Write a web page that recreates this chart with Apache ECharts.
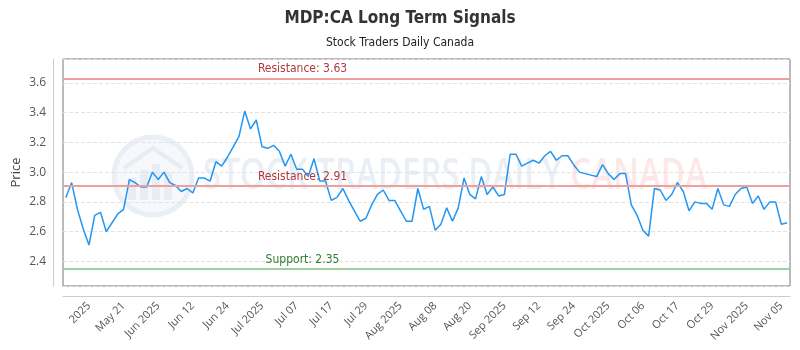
<!DOCTYPE html>
<html>
<head>
<meta charset="utf-8">
<title>MDP:CA Long Term Signals</title>
<script src="https://cdn.jsdelivr.net/npm/echarts@6.0.0/dist/echarts.min.js"></script>
<style>
    html, body { margin: 0; padding: 0; background: #fff; }
    #chart { width: 800px; height: 350px; }
</style>
</head>
<body>
<div id="chart"></div>
<script>
// closing prices, one per trading day
var prices = [
    2.83, 2.93, 2.75, 2.62, 2.51, 2.71, 2.73, 2.60, 2.66, 2.72,
    2.75, 2.95, 2.93, 2.90, 2.90, 3.00, 2.95, 3.00, 2.93, 2.91,
    2.87, 2.89, 2.86, 2.96, 2.96, 2.94, 3.07, 3.04, 3.10, 3.17,
    3.24, 3.41, 3.29, 3.35, 3.17, 3.16, 3.18, 3.14, 3.04, 3.12,
    3.02, 3.02, 2.97, 3.09, 2.94, 2.94, 2.81, 2.83, 2.89, 2.81,
    2.74, 2.67, 2.69, 2.78, 2.85, 2.88, 2.81, 2.81, 2.74, 2.67,
    2.67, 2.89, 2.75, 2.77, 2.61, 2.65, 2.76, 2.67, 2.76, 2.96,
    2.85, 2.82, 2.97, 2.85, 2.90, 2.84, 2.85, 3.12, 3.12, 3.04,
    3.06, 3.08, 3.06, 3.11, 3.14, 3.08, 3.11, 3.11, 3.05, 3.00,
    2.99, 2.98, 2.97, 3.05, 2.99, 2.95, 2.99, 2.99, 2.78, 2.71,
    2.61, 2.57, 2.89, 2.88, 2.81, 2.85, 2.93, 2.87, 2.74, 2.80,
    2.79, 2.79, 2.75, 2.89, 2.78, 2.77, 2.85, 2.89, 2.90, 2.79,
    2.84, 2.75, 2.80, 2.80, 2.65, 2.66
];

// labels shown on the x axis, first one on day 4 then every 6th day
var tickLabels = ['2025', 'May 21', 'Jun 2025', 'Jun 12', 'Jun 24', 'Jul 2025', 'Jul 07',
    'Jul 17', 'Jul 29', 'Aug 2025', 'Aug 08', 'Aug 20', 'Sep 2025', 'Sep 12', 'Sep 24',
    'Oct 2025', 'Oct 06', 'Oct 17', 'Oct 29', 'Nov 2025', 'Nov 05'];
var firstTick = 4;
var tickStep = 6;

var resistanceHigh = 3.63;
var resistanceLow = 2.91;
var support = 2.35;

var yMin = 2.235;
var yMax = 3.76;

var narrowFont = "'Liberation Sans Narrow', 'DejaVu Sans Condensed', sans-serif";
var mainFont = "'Open Sans', sans-serif";

function isTick(i) {
    return i >= firstTick && (i - firstTick) % tickStep === 0;
}

var categories = [];
for (var i = 0; i < prices.length; i++) {
    categories.push(isTick(i) ? tickLabels[(i - firstTick) / tickStep] : 'd' + i);
}

function levelLine(value, name, lineColor, textColor) {
    return {
        yAxis: value,
        lineStyle: { color: lineColor, width: 2, type: 'solid' },
        label: {
            show: true,
            position: 'insideMiddleTop',
            distance: 3,
            offset: [-124, 0],
            formatter: name + ': ' + value.toFixed(2),
            color: textColor,
            fontFamily: narrowFont,
            fontSize: 12
        }
    };
}

// faint logo + brand text behind the plot
function watermark() {
    var blue = '#e8ecf3';
    return [
        {
            type: 'circle', z: -10, silent: true,
            shape: { cx: 153, cy: 176, r: 39 },
            style: { fill: '#f6f8fb', stroke: '#eaeef5', lineWidth: 5 }
        },
        { type: 'rect', z: -10, silent: true, shape: { x: 128, y: 178, width: 8, height: 22 }, style: { fill: blue } },
        { type: 'rect', z: -10, silent: true, shape: { x: 140, y: 170, width: 8, height: 30 }, style: { fill: blue } },
        { type: 'rect', z: -10, silent: true, shape: { x: 152, y: 164, width: 8, height: 36 }, style: { fill: blue } },
        { type: 'rect', z: -10, silent: true, shape: { x: 164, y: 172, width: 8, height: 28 }, style: { fill: blue } },
        {
            type: 'polyline', z: -10, silent: true,
            shape: { points: [[124, 168], [153, 148], [182, 168]] },
            style: { stroke: blue, lineWidth: 4, fill: null }
        },
        {
            type: 'text', z: -10, silent: true,
            x: 203, y: 176, scaleX: 0.75,
            style: {
                text: '{b|STOCK TRADERS DAILY} {r|CANADA}',
                fontFamily: mainFont,
                fontSize: 44,
                verticalAlign: 'middle',
                rich: {
                    b: { fill: '#eaeef5', fontSize: 44, fontFamily: mainFont, fontWeight: 600 },
                    r: { fill: '#fde8e8', fontSize: 44, fontFamily: mainFont, fontWeight: 600 }
                }
            }
        }
    ];
}

var myChart = echarts.init(document.getElementById('chart'));
myChart.setOption({
    animation: false,
    backgroundColor: '#fff',
    title: {
        text: 'MDP:CA Long Term Signals',
        subtext: 'Stock Traders Daily Canada',
        left: 'center',
        top: 5,
        itemGap: 10,
        textStyle: { fontFamily: narrowFont, fontSize: 17, fontWeight: 'bold', color: '#333' },
        subtextStyle: { fontFamily: narrowFont, fontSize: 12, color: '#222' }
    },
    graphic: watermark(),
    grid: {
        left: 63, right: 10, top: 59, bottom: 64,
        show: true,
        borderColor: '#777',
        borderWidth: 1,
        containLabel: false,
        outerBoundsMode: 'none'
    },
    xAxis: {
        type: 'category',
        data: categories,
        boundaryGap: true,
        offset: 10,
        axisLine: { show: true, lineStyle: { color: '#ccc' } },
        axisTick: { show: false },
        splitLine: { show: false },
        axisLabel: {
            interval: function (index) { return isTick(index); },
            rotate: 45,
            margin: 8,
            color: '#555',
            fontFamily: mainFont,
            fontSize: 11
        }
    },
    yAxis: {
        type: 'value',
        min: yMin,
        max: yMax,
        splitNumber: 7,
        offset: 10,
        name: 'Price',
        nameLocation: 'middle',
        nameGap: 30,
        nameMoveOverlap: false,
        nameRotate: 90,
        nameTextStyle: { fontFamily: mainFont, fontSize: 13, color: '#444' },
        axisLine: { show: true, lineStyle: { color: '#ccc' } },
        axisTick: { show: false },
        axisLabel: {
            showMinLabel: false,
            showMaxLabel: false,
            margin: 7,
            color: '#555',
            fontFamily: mainFont,
            fontSize: 12,
            formatter: function (v) { return v.toFixed(1); }
        },
        splitLine: { show: true, lineStyle: { color: '#e3e3e3', type: 'dashed' } }
    },
    series: [{
        type: 'line',
        data: prices,
        showSymbol: false,
        symbol: 'none',
        lineStyle: { color: '#2196f3', width: 1.5 },
        itemStyle: { color: '#2196f3' },
        markLine: {
            silent: true,
            symbol: 'none',
            data: [
                levelLine(resistanceHigh, 'Resistance', '#f0a09c', '#b03a3a'),
                levelLine(resistanceLow, 'Resistance', '#f0a09c', '#b03a3a'),
                levelLine(support, 'Support', '#9fcf9f', '#2e7d32')
            ]
        }
    }]
});
window.onresize = myChart.resize;
</script>
</body>
</html>
